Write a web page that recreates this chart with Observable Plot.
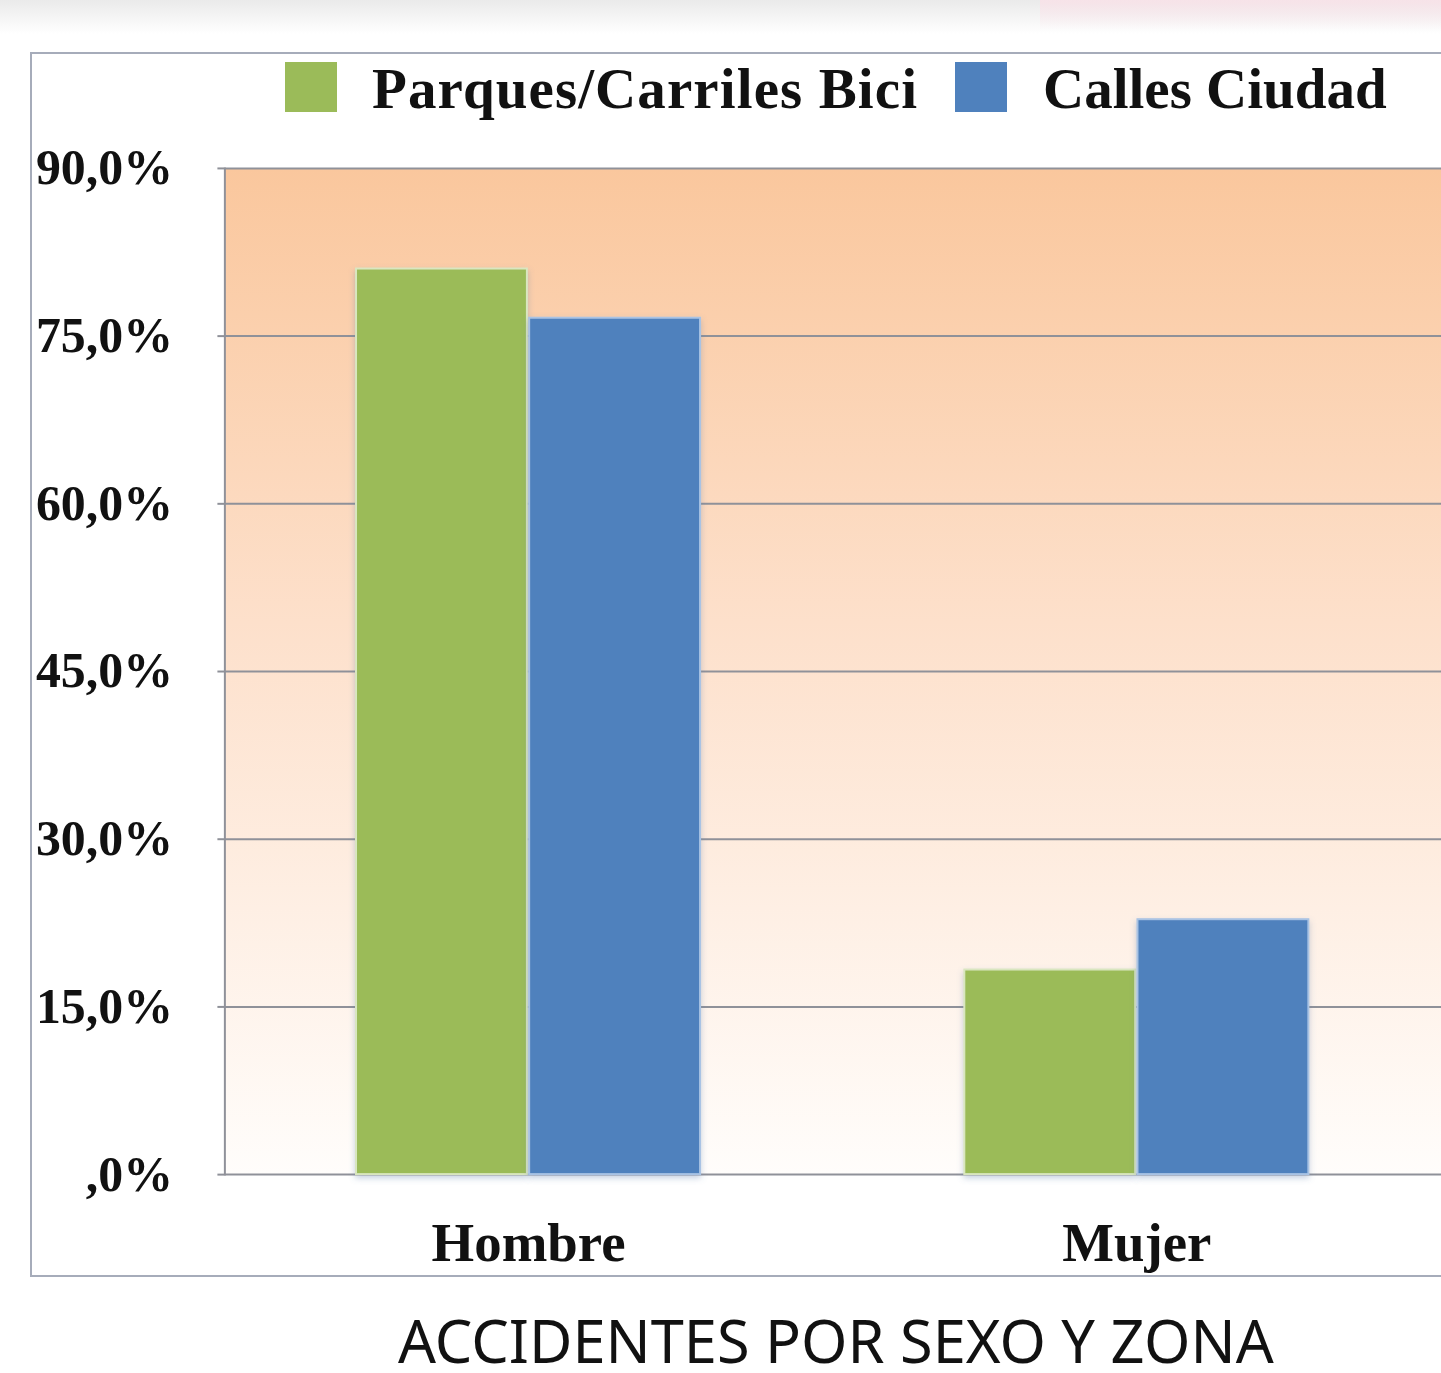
<!DOCTYPE html>
<html>
<head>
<meta charset="utf-8">
<script src="https://cdn.jsdelivr.net/npm/d3@7"></script>
<script src="https://cdn.jsdelivr.net/npm/@observablehq/plot@0.6"></script>
<style>
  html, body { margin: 0; padding: 0; background: #fff; }
  html { overflow-x: hidden; }
  body { width: 1441px; min-height: 1373px; position: relative; overflow-x: hidden; }
  #topshade { position: absolute; left: 0; top: 0; width: 1441px; height: 34px;
    background: linear-gradient(to bottom, rgba(225,225,225,0.7), rgba(255,255,255,0)); }
  #topshade2 { position: absolute; left: 1040px; top: 0; width: 401px; height: 30px;
    background: linear-gradient(to bottom, rgba(250,225,232,0.8), rgba(255,255,255,0)); }
  #box { position: absolute; left: 30px; top: 52px; width: 1409px; height: 1221px;
    border: 2px solid #a6acba; border-right: none; box-sizing: content-box; }
  #legend { position: absolute; left: 0; top: 0; width: 1441px; height: 140px; }
  .sw { position: absolute; top: 62px; width: 52px; height: 50px; }
  .lt { position: absolute; top: 56px; font-family: "Liberation Serif", "Times New Roman", serif;
    font-weight: bold; font-size: 57px; line-height: 66px; color: #111; white-space: nowrap; }
  #chart { position: absolute; left: 0; top: 140px; width: 1441px; overflow: hidden; }
  #title { position: absolute; left: 398px; top: 1312px;
    font-family: "Noto Sans", "DejaVu Sans", sans-serif; font-size: 59.5px; line-height: 56px;
    color: #111; white-space: nowrap; }
</style>
</head>
<body>
<div id="topshade"></div>
<div id="topshade2"></div>
<div id="box"></div>
<div id="legend"></div>
<div id="chart"></div>
<div id="title">ACCIDENTES POR SEXO Y ZONA</div>
<script>
// ---- data ----
const genders = ["Hombre", "Mujer"];
const series = ["Parques/Carriles Bici", "Calles Ciudad"];
const parquesValues = [81.0, 18.3];
const callesValues = [76.6, 22.8];
const seriesColors = ["#9bbb59", "#4f81bd"];
const seriesStrokes = ["#d9e6c0", "#a9c3e4"];
const yTicks = [0, 15, 30, 45, 60, 75, 90];

const parquesRows = genders.map((g, i) => ({gender: g, value: parquesValues[i]}));
const callesRows = genders.map((g, i) => ({gender: g, value: callesValues[i]}));

const fmt = d => d === 0 ? ",0%" : d.toFixed(1).replace(".", ",") + "%";

// legend
const legend = document.getElementById("legend");
const legendPos = [{sw: 285, tx: 372, ls: "1.1px"}, {sw: 955, tx: 1043, ls: "0px"}];
series.forEach((s, i) => {
  const sw = document.createElement("div");
  sw.className = "sw";
  sw.style.left = legendPos[i].sw + "px";
  sw.style.background = seriesColors[i];
  legend.appendChild(sw);
  const t = document.createElement("div");
  t.className = "lt";
  t.style.left = legendPos[i].tx + "px";
  t.style.letterSpacing = legendPos[i].ls;
  t.textContent = s;
  legend.appendChild(t);
});

const serifFont = "Liberation Serif, Times New Roman, serif";
const gridColor = "#8f9199";

const W = 1445, ML = 225, MR = 0;
const xOpts = {type: "band", domain: genders, paddingInner: 0.434, paddingOuter: 0.217, align: 0.5};
// use Plot's own band scale to find half a band for the grouped bars
const xScale = Plot.scale({x: {...xOpts, range: [ML, W - MR]}});
const half = xScale.bandwidth / 2;

const chart = Plot.plot({
  width: W,
  height: 1147,
  marginTop: 28,
  marginBottom: 110,
  marginLeft: ML,
  marginRight: MR,
  style: {background: "transparent", overflow: "visible"},
  x: {...xOpts, axis: null},
  y: {domain: [0, 90], ticks: yTicks, label: null, axis: null},
  marks: [
    Plot.frame({fill: "url(#bgGrad)", stroke: null}),
    Plot.ruleY(yTicks, {stroke: gridColor, strokeWidth: 2}),
    Plot.frame({anchor: "left", stroke: gridColor, strokeWidth: 2}),
    Plot.axisY({ticks: yTicks, tickFormat: fmt, tickSize: 7, tickPadding: 45,
      stroke: gridColor, strokeWidth: 2,
      fontFamily: serifFont, fontWeight: "bold", fontSize: 50, fill: "#111", label: null}),
    Plot.barY(parquesRows, {x: "gender", y: "value", fill: seriesColors[0],
      stroke: seriesStrokes[0], strokeWidth: 2, insetLeft: 0, insetRight: half + 1}),
    Plot.barY(callesRows, {x: "gender", y: "value", fill: seriesColors[1],
      stroke: seriesStrokes[1], strokeWidth: 2, insetLeft: half + 1, insetRight: 0}),
    Plot.axisX({anchor: "bottom", tickSize: 0, tickPadding: 48, label: null,
      fontFamily: serifFont, fontWeight: "bold", fontSize: 55, fill: "#111"})
  ]
});

const svg = d3.select(chart);
const defs = svg.insert("defs", ":first-child");
const grad = defs.append("linearGradient").attr("id", "bgGrad")
  .attr("x1", 0).attr("y1", 0).attr("x2", 0).attr("y2", 1);
grad.append("stop").attr("offset", "0%").attr("stop-color", "#fac79d");
grad.append("stop").attr("offset", "45%").attr("stop-color", "#fde0cb");
grad.append("stop").attr("offset", "100%").attr("stop-color", "#fffdfb");
defs.append("filter").attr("id", "shadow").attr("x", "-10%").attr("y", "-10%")
  .attr("width", "120%").attr("height", "120%")
  .append("feDropShadow").attr("dx", 0).attr("dy", 3).attr("stdDeviation", 3)
  .attr("flood-color", "#5a78a8").attr("flood-opacity", 0.35);
svg.selectAll("g[aria-label='bar'] rect").attr("filter", "url(#shadow)");

document.getElementById("chart").appendChild(chart);
</script>
</body>
</html>
